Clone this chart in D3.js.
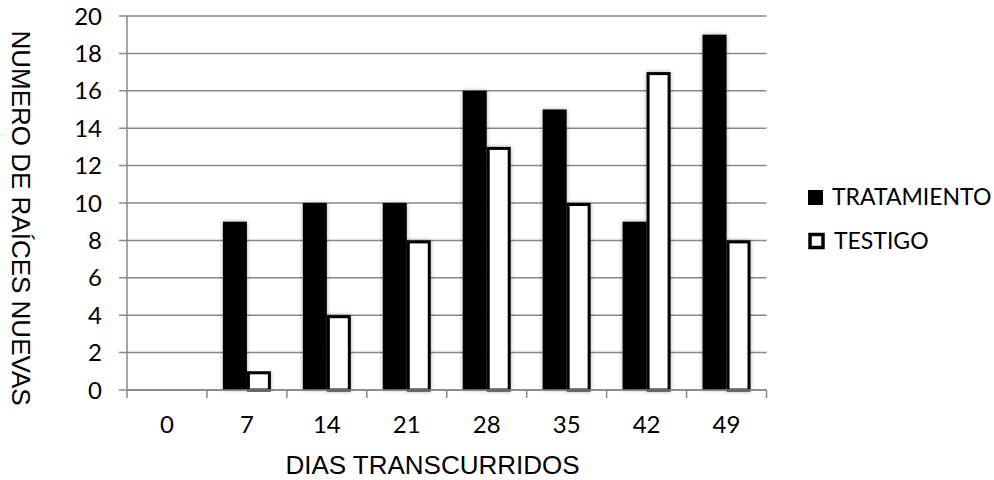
<!DOCTYPE html>
<html>
<head>
<meta charset="utf-8">
<script src="https://cdn.jsdelivr.net/npm/d3@7"></script>
<style>
  html, body { margin: 0; padding: 0; background: #fff; }
  svg { display: block; }
</style>
</head>
<body>
<svg id="chart" width="994" height="480"></svg>
<script>
// Days elapsed and new root counts per series
const dias = ["0", "7", "14", "21", "28", "35", "42", "49"];
const tratamiento = [0, 9, 10, 10, 16, 15, 9, 19];
const testigo = [0, 1, 4, 8, 13, 10, 17, 8];
const seriesNames = ["TRATAMIENTO", "TESTIGO"];
const yTicks = [0, 2, 4, 6, 8, 10, 12, 14, 16, 18, 20];

const tickFont = "'Lato', 'Open Sans', sans-serif";
const titleFont = "'Liberation Sans', Arial, sans-serif";

const svg = d3.select("#chart");
const plot = { left: 127, right: 766.5, top: 16, bottom: 390 };

const x = d3.scaleBand().domain(dias).range([plot.left, plot.right]);
const y = d3.scaleLinear().domain([0, 20]).range([plot.bottom, plot.top]);
const barW = x.bandwidth() * 0.3;
const inner = d3.scaleBand().domain(seriesNames).range([0, barW * 2]);

// soft shadow under the bars
const defs = svg.append("defs");
const f = defs.append("filter").attr("id", "shadow")
  .attr("x", "-30%").attr("y", "-10%").attr("width", "160%").attr("height", "120%");
f.append("feGaussianBlur").attr("in", "SourceAlpha").attr("stdDeviation", 2).attr("result", "b");
f.append("feComponentTransfer").attr("in", "b").attr("result", "s")
  .append("feFuncA").attr("type", "linear").attr("slope", 0.35);
const m = f.append("feMerge");
m.append("feMergeNode").attr("in", "s");
m.append("feMergeNode").attr("in", "SourceGraphic");

const gridColor = "#888888";

// horizontal gridlines with left tick stubs
svg.append("g").selectAll("line").data(yTicks).join("line")
  .attr("x1", plot.left - 8).attr("x2", plot.right)
  .attr("y1", d => y(d)).attr("y2", d => y(d))
  .attr("stroke", gridColor).attr("stroke-width", 1.5);

// y tick labels
svg.append("g").selectAll("text").data(yTicks).join("text")
  .attr("x", 102).attr("y", d => y(d))
  .attr("dy", "0.36em").attr("text-anchor", "end")
  .style("font-family", tickFont)
  .attr("font-size", 24).attr("fill", "#000")
  .text(d => d);

// bars
const rows = dias.map((d, i) => ({ dia: d, vals: [tratamiento[i], testigo[i]] }));
const groups = svg.append("g").selectAll("g").data(rows).join("g")
  .attr("transform", d => `translate(${x(d.dia) + x.bandwidth() / 2 - barW},0)`);

groups.selectAll("rect").data(d => d.vals.map((v, k) => ({ v, k })))
  .join("rect")
  .filter(d => d.v > 0)
  .attr("x", d => inner(seriesNames[d.k]) + (d.k === 1 ? 1.5 : 0))
  .attr("width", d => d.k === 1 ? inner.bandwidth() - 3 : inner.bandwidth())
  .attr("y", d => y(d.v) + (d.k === 1 ? 1.5 : 0))
  .attr("height", d => plot.bottom - y(d.v) - (d.k === 1 ? 1.5 : 0))
  .attr("fill", d => d.k === 0 ? "#000" : "#fff")
  .attr("stroke", d => d.k === 0 ? "none" : "#000")
  .attr("stroke-width", 3)
  .attr("filter", "url(#shadow)");

// x axis line, y axis line and category ticks
svg.append("line")
  .attr("x1", plot.left).attr("x2", plot.right)
  .attr("y1", plot.bottom).attr("y2", plot.bottom)
  .attr("stroke", gridColor).attr("stroke-width", 1.5);
svg.append("line")
  .attr("x1", plot.left).attr("x2", plot.left)
  .attr("y1", plot.top).attr("y2", plot.bottom + 8)
  .attr("stroke", gridColor).attr("stroke-width", 1.5);
const bounds = dias.map(d => x(d) + x.bandwidth());
svg.append("g").selectAll("line").data(bounds).join("line")
  .attr("x1", d => d).attr("x2", d => d)
  .attr("y1", plot.bottom).attr("y2", plot.bottom + 8)
  .attr("stroke", gridColor).attr("stroke-width", 1.5);

// x tick labels
svg.append("g").selectAll("text").data(dias).join("text")
  .attr("x", d => x(d) + x.bandwidth() / 2).attr("y", 433)
  .attr("text-anchor", "middle")
  .style("font-family", tickFont)
  .attr("font-size", 24).attr("fill", "#000")
  .text(d => d);

// axis titles
svg.append("text")
  .attr("x", 432.5).attr("y", 474)
  .attr("text-anchor", "middle")
  .style("font-family", titleFont)
  .attr("font-size", 26).attr("fill", "#000")
  .text("DIAS TRANSCURRIDOS");

svg.append("text")
  .attr("transform", "translate(12,218) rotate(90)")
  .attr("text-anchor", "middle")
  .style("font-family", titleFont)
  .attr("font-size", 26).attr("fill", "#000")
  .text("NUMERO DE RAÍCES NUEVAS");

// legend
const legend = svg.append("g");
const legBase = [205, 249];
seriesNames.forEach((name, k) => {
  if (k === 0) {
    legend.append("rect")
      .attr("x", 808).attr("y", legBase[k] - 15)
      .attr("width", 15).attr("height", 15)
      .attr("fill", "#000");
  } else {
    legend.append("rect")
      .attr("x", 810).attr("y", legBase[k] - 14.5)
      .attr("width", 13).attr("height", 13)
      .attr("fill", "#fff")
      .attr("stroke", "#000").attr("stroke-width", 3.5);
  }
  legend.append("text")
    .attr("x", k === 0 ? 832 : 834).attr("y", legBase[k])
    .style("font-family", tickFont)
    .attr("font-size", 23).attr("fill", "#000")
    .text(name);
});
</script>
</body>
</html>
